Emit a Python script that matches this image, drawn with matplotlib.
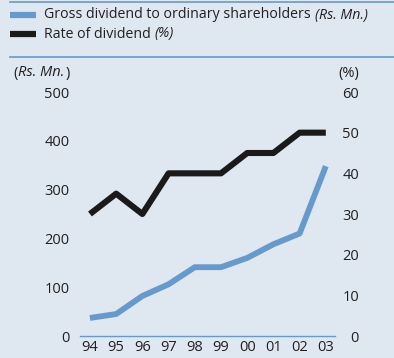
import matplotlib
matplotlib.use("Agg")
import matplotlib.pyplot as plt
from matplotlib.lines import Line2D

plt.rcParams['font.family'] = ['Open Sans', 'DejaVu Sans']

years = ["94", "95", "96", "97", "98", "99", "00", "01", "02", "03"]
gross_dividend = [37, 45, 82, 106, 141, 141, 160, 188, 210, 348]   # Rs. Mn.
dividend_rate = [30, 35, 30, 40, 40, 40, 45, 45, 50, 50]           # %
left_ticks = [0, 100, 200, 300, 400, 500]
right_ticks = [0, 10, 20, 30, 40, 50, 60]

BG = "#dfe8f1"
BLUE = "#6699cc"
BLACK = "#1a1a1a"
TEXT = "#231f20"

W, H = 394, 358
fig = plt.figure(figsize=(W / 100, H / 100), dpi=100, facecolor=BG)

ax = fig.add_axes([80 / W, 1 - 336 / H, (335 - 80) / W, (336 - 92) / H])
ax.set_facecolor(BG)
x = list(range(len(years)))

ax.plot(x, gross_dividend, color=BLUE, lw=4.2, solid_capstyle='butt', zorder=3)
ax.set_ylim(0, 500)
ax.set_xlim(-0.38, 9.35)
ax.set_yticks(left_ticks)
ax.set_yticklabels([str(v) for v in left_ticks])
ax.set_xticks(x)
ax.set_xticklabels(years)

ax2 = ax.twinx()
ax2.plot(x, dividend_rate, color=BLACK, lw=4.4, solid_capstyle='butt', zorder=3)
ax2.set_ylim(0, 60)
ax2.set_yticks(right_ticks)
ax2.set_yticklabels([str(v) for v in right_ticks])

for a in (ax, ax2):
    for s in a.spines.values():
        s.set_visible(False)
ax.spines['bottom'].set_visible(True)
ax.spines['bottom'].set_color(BLUE)
ax.spines['bottom'].set_linewidth(1.0)

ax.tick_params(axis='y', length=0, pad=7.5, labelsize=10.5, labelcolor=TEXT)
ax.tick_params(axis='x', length=0, pad=3, labelsize=10.5, labelcolor=TEXT)
ax2.tick_params(axis='y', length=0, pad=17.3, labelsize=10.5, labelcolor=TEXT)
for lbl in ax2.get_yticklabels():
    lbl.set_horizontalalignment('right')


def chain(prev, s, italic=False, size=10.5, gap=0.0):
    """Place text immediately to the right of a previous text artist."""
    return ax.annotate(
        s, xy=(1, 0.5), xycoords=prev, xytext=(gap, 0),
        textcoords='offset points', ha='left', va='center',
        fontsize=size, color=TEXT, style='italic' if italic else 'normal',
        annotation_clip=False)


# Axis unit headers
p = fig.text(13 / W, 1 - 73 / H, "(", ha='left', va='center',
             fontsize=10.5, color=TEXT)
p = chain(p, "Rs. Mn.", italic=True, gap=0.3)
chain(p, ")", gap=0.8)
fig.text(359 / W, 1 - 73 / H, "(%)", ha='right', va='center',
         fontsize=10.5, color=TEXT)

# Legend block with rules above and below
fig.add_artist(Line2D([10 / W, 1], [1 - 1.5 / H] * 2, color=BLUE, lw=1.2,
                      transform=fig.transFigure))
fig.add_artist(Line2D([10 / W, 1], [1 - 57 / H] * 2, color=BLUE, lw=1.2,
                      transform=fig.transFigure))
fig.add_artist(Line2D([10 / W, 36 / W], [1 - 15 / H] * 2, color=BLUE, lw=4.5,
                      solid_capstyle='butt', transform=fig.transFigure))
fig.add_artist(Line2D([10 / W, 36 / W], [1 - 34 / H] * 2, color=BLACK, lw=4.5,
                      solid_capstyle='butt', transform=fig.transFigure))
t = fig.text(44 / W, 1 - 15 / H, "Gross dividend to ordinary shareholders",
             ha='left', va='center', fontsize=10.2, color=TEXT)
chain(t, "(Rs. Mn.)", italic=True, size=10.2, gap=3.0)
t = fig.text(44 / W, 1 - 34 / H, "Rate of dividend",
             ha='left', va='center', fontsize=10.2, color=TEXT)
chain(t, "(%)", italic=True, size=10.2, gap=3.0)

fig.savefig("out.png", dpi=100, facecolor=BG)
